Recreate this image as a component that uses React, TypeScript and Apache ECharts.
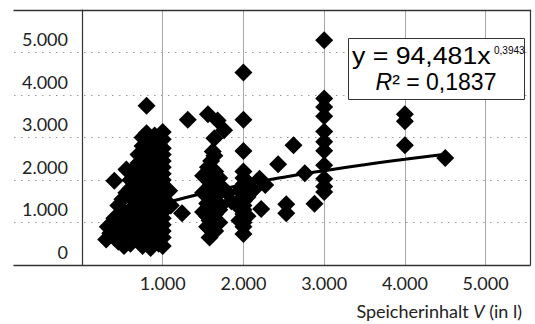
import React, { useEffect, useRef } from "react";
import * as echarts from "echarts";

// Speicherinhalt V (l) vs. value
const clusterSmall: [number, number][] = [
  [300, 600], [320, 900], [350, 750], [400, 1980], [400, 1100], [400, 650],
  [450, 1400], [450, 850], [450, 550], [500, 1550], [500, 1200], [500, 900],
  [500, 700], [520, 450], [550, 2250], [550, 1700], [550, 1000], [550, 600],
  [600, 2000], [600, 1800], [600, 1300], [600, 800], [600, 500], [650, 2270],
  [650, 1500], [650, 1100], [650, 700], [700, 2600], [700, 2400], [700, 2100],
  [700, 1600], [700, 1200], [700, 900], [700, 600], [750, 3000], [750, 2800],
  [750, 2200], [750, 1900], [750, 1400], [750, 1000], [750, 700], [750, 450],
  [800, 3750], [800, 3100], [800, 2500], [800, 2000], [800, 1700], [800, 1300],
  [800, 850], [800, 550], [850, 2900], [850, 2300], [850, 1800], [850, 1500],
  [850, 1150], [850, 750], [850, 400], [900, 3050], [900, 2700], [900, 2400],
  [900, 2000], [900, 1600], [900, 1200], [900, 900], [900, 600], [950, 2850],
  [950, 2200], [950, 1700], [950, 1300], [950, 1000], [950, 500],
];

const clusterOneThousand: [number, number][] = [
  [1000, 3130], [1000, 2960], [1000, 2750], [1000, 2600], [1000, 2450],
  [1000, 2300], [1000, 2150], [1000, 2000], [1000, 1850], [1000, 1700],
  [1000, 1550], [1000, 1400], [1000, 1250], [1000, 1100], [1000, 950],
  [1000, 800], [1000, 650], [1000, 450], [1100, 1400], [1080, 1750],
  [1240, 1220], [1310, 3420],
];

const clusterMid: [number, number][] = [
  [1560, 3550], [1680, 3400], [1760, 3170], [1640, 2980], [1620, 2670],
  [1640, 2570], [1600, 2450], [1560, 2300], [1650, 2200], [1500, 2100],
  [1700, 2050], [1650, 2000], [1600, 1900], [1750, 1800], [1700, 1750],
  [1500, 1700], [1650, 1600], [1600, 1550], [1550, 1450], [1720, 1400],
  [1600, 1350], [1700, 1300], [1500, 1250], [1650, 1200], [1550, 1150],
  [1580, 1050], [1700, 1000], [1550, 900], [1650, 800], [1580, 650],
  [1800, 1700], [1850, 1500],
];

const clusterTwoThousand: [number, number][] = [
  [2000, 4530], [2000, 3420], [2000, 2680], [2000, 2200], [2000, 2050],
  [2050, 1950], [2000, 1900], [2000, 1800], [1950, 1750], [2000, 1700],
  [2050, 1600], [2000, 1600], [2000, 1500], [2000, 1400], [1950, 1350],
  [2000, 1300], [2000, 1200], [2050, 1150], [2000, 1100], [1950, 1050],
  [2000, 1000], [2000, 900], [2000, 730], [2120, 1760], [2200, 2030],
  [2270, 1880], [2220, 1320], [2430, 2370], [2530, 1430], [2530, 1220],
  [2620, 2820], [2760, 2160], [2880, 1440],
];

const clusterLarge: [number, number][] = [
  [3000, 5290], [3000, 3920], [3000, 3720], [3000, 3500], [3000, 3140],
  [3000, 2900], [3000, 2690], [3000, 2350], [3000, 2030], [3000, 1850],
  [3000, 1720], [4000, 3550], [4000, 3380], [4000, 2820], [4500, 2520],
];

// Trend curve read along the fitted power line y = 94,481 x^0,3943
const trendX = [300, 500, 750, 1000, 1500, 2000, 2500, 3000, 3500, 4000, 4500];
const trendY = [895, 1095, 1285, 1440, 1689, 1892, 2066, 2220, 2360, 2487, 2605];

const yTicks = [0, 1000, 2000, 3000, 4000, 5000];
const xTicks = [1000, 2000, 3000, 4000, 5000];

const fmt = (v: number) => {
  const s = String(Math.round(v));
  return s.replace(/\B(?=(\d{3})+(?!\d))/g, ".");
};

const FONT = "Lato";

export default function App() {
  const ref = useRef<HTMLDivElement>(null);
  useEffect(() => {
    document.body.style.margin = "0";
    if (!ref.current) return;
    const chart = echarts.init(ref.current, null, { renderer: "svg" });
    const points = [
      ...clusterSmall,
      ...clusterOneThousand,
      ...clusterMid,
      ...clusterTwoThousand,
      ...clusterLarge,
    ];
    chart.setOption({
      animation: false,
      backgroundColor: "#fff",
      grid: [
        { left: 14, right: 5, top: 10, height: 255 },
        { left: 82, right: 5, top: 10, height: 255 },
      ],
      xAxis: [
        {
          gridIndex: 0, type: "value", min: 0, max: 1, position: "bottom",
          axisLine: { show: true, onZero: false, lineStyle: { color: "#333", width: 1.3 } },
          axisTick: { show: false }, axisLabel: { show: false }, splitLine: { show: false },
        },
        {
          gridIndex: 0, type: "value", min: 0, max: 1, position: "top",
          axisLine: { show: true, onZero: false, lineStyle: { color: "#333", width: 1.3 } },
          axisTick: { show: false }, axisLabel: { show: false }, splitLine: { show: false },
        },
        {
          gridIndex: 1, type: "value", min: 0, max: 5550, interval: 1000,
          axisLine: { show: false }, axisTick: { show: false },
          splitLine: { show: true, lineStyle: { color: "#a8a8a8", width: 1 } },
          axisLabel: {
            color: "#222", fontFamily: FONT, fontSize: 18, margin: 9,
            formatter: (v: number) => (xTicks.includes(v) ? fmt(v) : ""),
          },
          name: "{n|Speicherinhalt }{i|V}{n| (in l)}",
          nameLocation: "end",
          nameGap: 0,
          nameTextStyle: {
            align: "right", verticalAlign: "top", padding: [37, 8, 0, 0],
            rich: {
              n: { fontFamily: FONT, fontSize: 18, color: "#222" },
              i: { fontFamily: FONT, fontSize: 18, color: "#222", fontStyle: "italic" },
            },
          },
        },
      ],
      yAxis: [
        {
          gridIndex: 0, type: "value", min: 0, max: 6000, interval: 1000,
          axisLine: { show: false }, axisTick: { show: false }, axisLabel: { show: false },
          splitLine: { show: true, lineStyle: { color: "#999", width: 1.2, type: [1.5, 5.5] } },
        },
        {
          gridIndex: 1, type: "value", min: 0, max: 6000, interval: 1000,
          axisLine: { show: true, onZero: false, lineStyle: { color: "#333", width: 1.2 } },
          axisTick: { show: false }, splitLine: { show: false },
          axisLabel: {
            color: "#222", fontFamily: FONT, fontSize: 18, margin: 14,
            verticalAlign: "bottom", lineHeight: 27,
            formatter: (v: number) => (yTicks.includes(v) ? fmt(v) : ""),
          },
        },
        {
          gridIndex: 1, type: "value", min: 0, max: 6000, interval: 1000, position: "right",
          axisLine: { show: true, onZero: false, lineStyle: { color: "#333", width: 1.2 } },
          axisTick: { show: false }, axisLabel: { show: false }, splitLine: { show: false },
        },
      ],
      series: [
        {
          type: "scatter", xAxisIndex: 2, yAxisIndex: 1,
          symbol: "diamond", symbolSize: 18,
          itemStyle: { color: "#000", opacity: 1 },
          data: points, z: 3,
        },
        {
          type: "line", xAxisIndex: 2, yAxisIndex: 1, smooth: true,
          showSymbol: false, symbol: "none",
          lineStyle: { color: "#000", width: 3 },
          data: trendX.map((x, i) => [x, trendY[i]]), z: 4,
        },
      ],
      graphic: [
        {
          type: "rect", left: 348, top: 38, z: 100,
          shape: { width: 176, height: 61 },
          style: { fill: "#fff", stroke: "#333", lineWidth: 1 },
        },
        {
          type: "text", x: 352, y: 56, z: 101, scaleX: 1.16,
          style: {
            text: "y = 94,481x", font: "23px 'Liberation Sans', Arial, sans-serif",
            fill: "#000", verticalAlign: "middle", align: "left",
          },
        },
        {
          type: "text", x: 494, y: 50, z: 101,
          style: {
            text: "0,3943", font: "10px 'Liberation Sans', Arial, sans-serif",
            fill: "#000", verticalAlign: "middle", align: "left",
          },
        },
        {
          type: "text", x: 436, y: 82, z: 101,
          style: {
            text: "{i|R}{n|² = 0,1837}", verticalAlign: "middle", align: "center",
            rich: {
              i: { fontFamily: "Liberation Sans", fontSize: 23, fontStyle: "italic", fill: "#000", color: "#000" },
              n: { fontFamily: "Liberation Sans", fontSize: 23, fill: "#000", color: "#000" },
            },
          },
        },
      ],
    });
    return () => chart.dispose();
  }, []);
  return <div ref={ref} style={{ width: 535, height: 324 }} />;
}
